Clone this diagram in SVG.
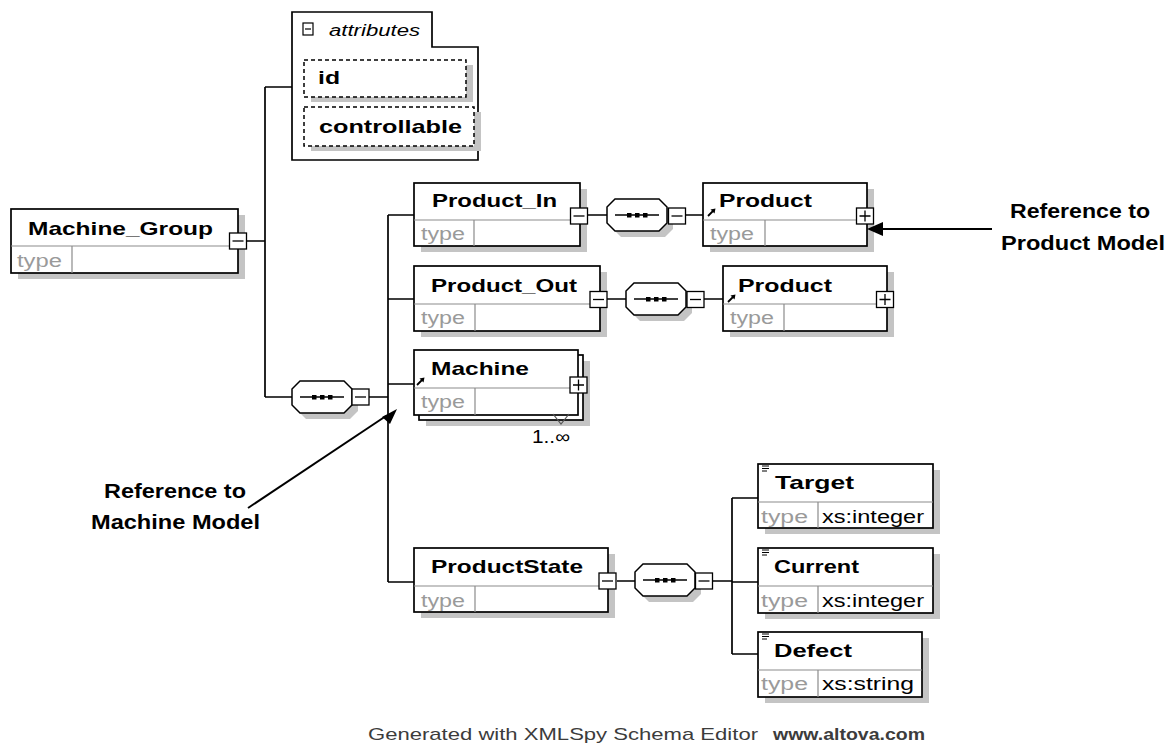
<svg xmlns="http://www.w3.org/2000/svg" width="1175" height="749" viewBox="0 0 1175 749">
<style>
.box{fill:#fff;stroke:#000;stroke-width:1.7}
.shd{fill:#c4c4c4}
.div{stroke:#8c8c8c;stroke-width:1.2;fill:none}
.ln{stroke:#000;stroke-width:1.7;fill:none}
.t{font-family:"Liberation Sans",Arial,sans-serif;font-weight:bold;font-size:19px;fill:#000}
.ty{font-family:"Liberation Sans",Arial,sans-serif;font-size:18px;fill:#9a9a9a}
.tv{font-family:"Liberation Sans",Arial,sans-serif;font-size:18px;fill:#000}
.ann{font-family:"Liberation Sans",Arial,sans-serif;font-weight:bold;font-size:20px;fill:#000}
.ic{fill:#fff;stroke:#000;stroke-width:1.3}
.dash{fill:#fff;stroke:#000;stroke-width:1.5;stroke-dasharray:4 3}
</style>
<defs>
<g id="minus"><rect class="ic" x="-8.5" y="-8" width="17" height="16"/><path d="M-5.5,0H5.5" stroke="#000" stroke-width="1.3"/></g>
<g id="plus"><rect class="ic" x="-8.5" y="-8" width="17" height="16"/><path d="M-5.5,0H5.5M0,-5.5V5.5" stroke="#000" stroke-width="1.3"/></g>
<g id="seq">
<polygon class="shd" points="14,6 58,6 66,14 66,30 58,38 14,38 6,30 6,14"/>
<polygon fill="#fff" stroke="#000" stroke-width="1.5" points="8,0 52,0 60,8 60,24 52,32 8,32 0,24 0,8"/>
<path d="M8,16H52" stroke="#000" stroke-width="1.5"/>
<rect x="20" y="14" width="4.5" height="4.5"/><rect x="28" y="14" width="4.5" height="4.5"/><rect x="36" y="14" width="4.5" height="4.5"/>
</g>
<g id="refarrow"><path d="M0,7L6,1" stroke="#000" stroke-width="1.8"/><polygon points="7.5,-0.5 2.5,0.5 6.5,4.5"/></g>
<g id="eq"><path d="M0,0H7M0,2.5H7M0,5H5" stroke="#000" stroke-width="1"/></g>
</defs>
<rect width="1175" height="749" fill="#fff"/>

<g id="connectors">
<path class="ln" d="M247,241H265M265,87V397M265,87H292M265,397H292M369,397H388"/>
<path class="ln" d="M388,215V582M388,215H414M388,299H414M388,384H414M388,582H414"/>
<path class="ln" d="M588,215H607M685,215H703M607,299H626M704,299H723M617,581H635M713,581H732"/>
<path class="ln" d="M732,498V654M732,498H758M732,582H758M732,654H758"/>
</g>

<g id="Machine_Group">
<rect class="shd" x="18" y="215" width="227" height="64"/>
<rect class="box" x="11" y="209" width="227" height="64"/>
<path class="div" d="M11,246H238M72,246V273"/>
<text class="t" x="28" y="235" textLength="185" lengthAdjust="spacingAndGlyphs">Machine_Group</text>
<text class="ty" x="17" y="267" textLength="45" lengthAdjust="spacingAndGlyphs">type</text>
<use href="#minus" x="238" y="241"/>
</g>

<g id="attributes">
<path fill="#fff" stroke="#000" stroke-width="1.7" d="M292,12H432V47H478V160H292Z"/>
<rect x="303" y="23" width="10" height="12" fill="#fff" stroke="#000" stroke-width="1.2"/>
<path d="M305,29H311" stroke="#000" stroke-width="1.2"/>
<text x="329" y="36" font-family="'Liberation Sans',Arial,sans-serif" font-style="italic" font-size="16" textLength="91" lengthAdjust="spacingAndGlyphs">attributes</text>
<g id="attr_id">
<rect class="shd" x="311" y="65" width="162" height="37"/>
<rect class="dash" x="304" y="60" width="162" height="37"/>
<text class="t" x="318" y="84" textLength="22" lengthAdjust="spacingAndGlyphs">id</text>
</g>
<g id="attr_controllable">
<rect class="shd" x="311" y="112" width="170" height="39"/>
<rect class="dash" x="304" y="107" width="170" height="39"/>
<text class="t" x="319" y="133" textLength="143" lengthAdjust="spacingAndGlyphs">controllable</text>
</g>
</g>

<g id="seq_main"><use href="#seq" x="292" y="381"/><use href="#minus" x="360.5" y="397"/></g>

<g id="Product_In">
<rect class="shd" x="421" y="189" width="166" height="63"/>
<rect class="box" x="414" y="183" width="166" height="63"/>
<path class="div" d="M414,220H580M474,220V246"/>
<text class="t" x="432" y="207" textLength="125" lengthAdjust="spacingAndGlyphs">Product_In</text>
<text class="ty" x="421" y="240" textLength="44" lengthAdjust="spacingAndGlyphs">type</text>
<use href="#minus" x="579" y="216"/>
</g>
<g id="seq_in"><use href="#seq" x="607" y="199"/><use href="#minus" x="677" y="216"/></g>
<g id="Product_1">
<rect class="shd" x="710" y="189" width="164" height="63"/>
<rect class="box" x="703" y="183" width="164" height="63"/>
<path class="div" d="M703,220H867M765,220V246"/>
<use href="#refarrow" x="708" y="209"/>
<text class="t" x="719" y="207" textLength="93" lengthAdjust="spacingAndGlyphs">Product</text>
<text class="ty" x="710" y="240" textLength="44" lengthAdjust="spacingAndGlyphs">type</text>
<use href="#plus" x="865" y="216"/>
</g>

<g id="Product_Out">
<rect class="shd" x="421" y="272" width="186" height="65"/>
<rect class="box" x="414" y="266" width="186" height="65"/>
<path class="div" d="M414,304H600M475,304V331"/>
<text class="t" x="431" y="292" textLength="146" lengthAdjust="spacingAndGlyphs">Product_Out</text>
<text class="ty" x="421" y="324" textLength="44" lengthAdjust="spacingAndGlyphs">type</text>
<use href="#minus" x="598.5" y="299.5"/>
</g>
<g id="seq_out"><use href="#seq" x="626" y="283"/><use href="#minus" x="695.5" y="299.5"/></g>
<g id="Product_2">
<rect class="shd" x="730" y="272" width="164" height="65"/>
<rect class="box" x="723" y="266" width="164" height="65"/>
<path class="div" d="M723,304H887M784,304V331"/>
<use href="#refarrow" x="728" y="295"/>
<text class="t" x="738" y="292" textLength="94" lengthAdjust="spacingAndGlyphs">Product</text>
<text class="ty" x="730" y="324" textLength="44" lengthAdjust="spacingAndGlyphs">type</text>
<use href="#plus" x="885" y="299.5"/>
</g>

<g id="Machine">
<rect class="shd" x="426" y="361" width="164" height="65"/>
<rect class="box" x="419" y="355" width="164" height="65"/>
<rect class="box" x="414" y="350" width="164" height="65"/>
<path class="div" d="M414,388H578M475,388V415"/>
<path d="M553,414L561,424L569,414" fill="none" stroke="#555" stroke-width="1.2"/>
<use href="#refarrow" x="417" y="378"/>
<text class="t" x="431" y="375" textLength="98" lengthAdjust="spacingAndGlyphs">Machine</text>
<text class="ty" x="421" y="408" textLength="44" lengthAdjust="spacingAndGlyphs">type</text>
<use href="#plus" x="578.5" y="385"/>
<text class="tv" x="532" y="443" textLength="38" lengthAdjust="spacingAndGlyphs">1..∞</text>
</g>

<g id="ProductState">
<rect class="shd" x="421" y="554" width="194" height="64"/>
<rect class="box" x="414" y="548" width="194" height="64"/>
<path class="div" d="M414,586H608M475,586V612"/>
<text class="t" x="431" y="573" textLength="152" lengthAdjust="spacingAndGlyphs">ProductState</text>
<text class="ty" x="421" y="607" textLength="44" lengthAdjust="spacingAndGlyphs">type</text>
<use href="#minus" x="607.5" y="581"/>
</g>
<g id="seq_state"><use href="#seq" x="635" y="564"/><use href="#minus" x="704" y="581"/></g>

<g id="Target">
<rect class="shd" x="765" y="470" width="175" height="64"/>
<rect class="box" x="758" y="464" width="175" height="64"/>
<path class="div" d="M758,502H933M818,502V528"/>
<use href="#eq" x="762" y="466"/>
<text class="t" x="775" y="489" textLength="79" lengthAdjust="spacingAndGlyphs">Target</text>
<text class="ty" x="761" y="523" textLength="47" lengthAdjust="spacingAndGlyphs">type</text>
<text class="tv" x="822" y="523" textLength="102" lengthAdjust="spacingAndGlyphs">xs:integer</text>
</g>
<g id="Current">
<rect class="shd" x="765" y="554" width="175" height="65"/>
<rect class="box" x="758" y="548" width="175" height="65"/>
<path class="div" d="M758,586H933M818,586V613"/>
<use href="#eq" x="762" y="550"/>
<text class="t" x="774" y="573" textLength="85" lengthAdjust="spacingAndGlyphs">Current</text>
<text class="ty" x="761" y="607" textLength="47" lengthAdjust="spacingAndGlyphs">type</text>
<text class="tv" x="822" y="607" textLength="102" lengthAdjust="spacingAndGlyphs">xs:integer</text>
</g>
<g id="Defect">
<rect class="shd" x="765" y="638" width="164" height="65"/>
<rect class="box" x="758" y="632" width="164" height="65"/>
<path class="div" d="M758,670H922M818,670V697"/>
<use href="#eq" x="762" y="634"/>
<text class="t" x="774" y="657" textLength="78" lengthAdjust="spacingAndGlyphs">Defect</text>
<text class="ty" x="761" y="690" textLength="47" lengthAdjust="spacingAndGlyphs">type</text>
<text class="tv" x="822" y="690" textLength="92" lengthAdjust="spacingAndGlyphs">xs:string</text>
</g>

<g id="note_product">
<path d="M992,229H880" stroke="#000" stroke-width="2"/>
<polygon points="867,229 883,222 883,236"/>
<text class="ann" x="1010" y="218" textLength="140" lengthAdjust="spacingAndGlyphs">Reference to</text>
<text class="ann" x="1001" y="250" textLength="164" lengthAdjust="spacingAndGlyphs">Product Model</text>
</g>
<g id="note_machine">
<path d="M248,508L386,416" stroke="#000" stroke-width="2"/>
<polygon points="397,409 382,417 390,424"/>
<text class="ann" x="104" y="498" textLength="142" lengthAdjust="spacingAndGlyphs">Reference to</text>
<text class="ann" x="91" y="529" textLength="169" lengthAdjust="spacingAndGlyphs">Machine Model</text>
</g>

<g id="footer">
<text x="368" y="740" font-family="'Liberation Sans',Arial,sans-serif" font-size="17" fill="#3c3c3c" textLength="390" lengthAdjust="spacingAndGlyphs">Generated with XMLSpy Schema Editor</text>
<text x="773" y="740" font-family="'Liberation Sans',Arial,sans-serif" font-size="17" font-weight="bold" fill="#3c3c3c" textLength="152" lengthAdjust="spacingAndGlyphs">www.altova.com</text>
</g>
</svg>
